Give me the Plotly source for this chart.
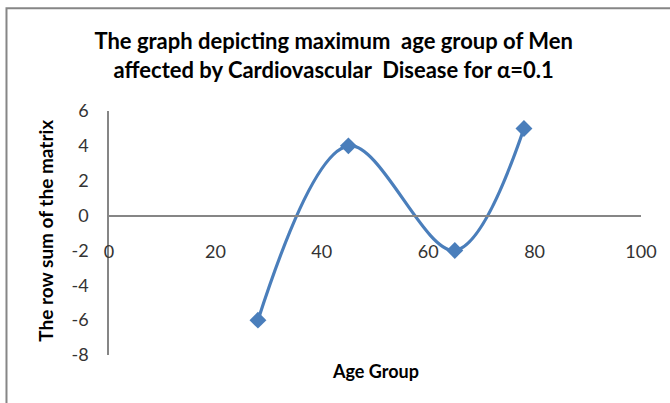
import plotly.graph_objects as go

age_group = [28, 45, 65, 78]
row_sum = [-6, 4, -2, 5]
x_ticks = [0, 20, 40, 60, 80, 100]
y_ticks = [-8, -6, -4, -2, 0, 2, 4, 6]
x_range = [0, 100]
y_range = [-8, 6]

blue = "#4A7EBB"
axis_gray = "#868686"
font = "Lato"

fig = go.Figure()
fig.add_trace(go.Scatter(
    x=age_group, y=row_sum, mode="lines+markers",
    line=dict(color=blue, width=3.2, shape="spline", smoothing=1.0),
    marker=dict(symbol="diamond", size=13, color=blue),
    showlegend=False, hoverinfo="skip",
))

zero_pos = (0 - y_range[0]) / (y_range[1] - y_range[0])

fig.update_layout(
    width=670, height=403,
    margin=dict(l=109, r=29, t=111, b=48),
    paper_bgcolor="white", plot_bgcolor="white",
    title=dict(
        text="The graph depicting maximum  age group of Men<br>affected by Cardiovascular  Disease for α=0.1",
        x=0.498, xanchor="center", y=0.878, yanchor="middle",
        font=dict(family=font, size=22, color="black", weight="bold"),
    ),
    xaxis=dict(
        range=x_range, tickvals=x_ticks, ticktext=[str(v) for v in x_ticks],
        anchor="free", position=zero_pos, automargin=False,
        showline=True, linecolor=axis_gray, linewidth=1.5,
        showgrid=False, zeroline=False, ticks="",
        ticklabelstandoff=20,
        tickfont=dict(family=font, size=18, color="#333333"),
        title=None,
    ),
    yaxis=dict(
        range=y_range, tickvals=y_ticks, ticktext=[str(v) for v in y_ticks],
        automargin=False,
        showline=True, linecolor=axis_gray, linewidth=1.5,
        showgrid=False, zeroline=False, ticks="",
        ticklabelstandoff=15,
        tickfont=dict(family=font, size=18, color="#333333"),
        title=None,
    ),
    annotations=[
        dict(text="<b>Age Group</b>", xref="paper", yref="paper",
             x=0.5, y=-0.067, xanchor="center", yanchor="middle", showarrow=False,
             font=dict(family=font, size=18, color="black")),
        dict(text="<b>The row sum of the matrix</b>", xref="paper", yref="paper",
             x=-0.12, y=0.51, xanchor="center", yanchor="middle", showarrow=False,
             textangle=-90, font=dict(family=font, size=19, color="black")),
    ],
    shapes=[dict(
        type="rect", xref="paper", yref="paper",
        x0=-0.1927, x1=1.06, y0=-0.3, y1=1.4206,
        line=dict(color=axis_gray, width=2), fillcolor="rgba(0,0,0,0)", layer="below",
    )],
)

fig.write_html("out.html", config={"displayModeBar": False})

with open("out.html", encoding="utf-8") as f:
    html = f.read()
html = html.replace("<body>", '<body style="margin:0;padding:0;overflow:hidden">', 1)
with open("out.html", "w", encoding="utf-8") as f:
    f.write(html)
